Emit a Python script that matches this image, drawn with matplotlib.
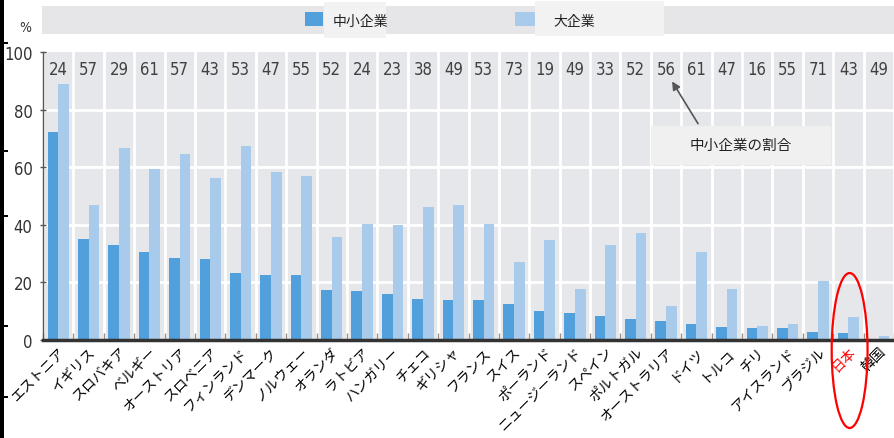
import numpy as np
import matplotlib

matplotlib.use("Agg")
import matplotlib.pyplot as plt
from matplotlib.patches import Rectangle, Ellipse

plt.rcParams["font.family"] = ["Noto Sans CJK JP", "DejaVu Sans"]
NUM_FONT = dict(family="DejaVu Sans", fontstretch="condensed")

countries = ["エストニア", "イギリス", "スロバキア", "ベルギー", "オーストリア", "スロベニア",
             "フィンランド", "デンマーク", "ノルウェー", "オランダ", "ラトビア", "ハンガリー",
             "チェコ", "ギリシャ", "フランス", "スイス", "ポーランド", "ニュージーランド",
             "スペイン", "ポルトガル", "オーストラリア", "ドイツ", "トルコ", "チリ",
             "アイスランド", "ブラジル", "日本", "韓国"]
sme = [72.1, 35.1, 33.1, 30.7, 28.6, 28.0, 23.4, 22.7, 22.5, 17.4, 17.0, 16.0, 14.1, 13.9,
       13.9, 12.5, 10.2, 9.4, 8.4, 7.3, 6.7, 5.5, 4.5, 4.2, 4.1, 2.7, 2.3, 0.5]
large = [88.9, 46.9, 66.6, 59.4, 64.5, 56.1, 67.5, 58.2, 57.0, 35.7, 40.3, 39.9, 46.1, 46.9,
         40.3, 27.2, 34.7, 17.7, 33.1, 37.2, 11.9, 30.7, 17.7, 5.0, 5.5, 20.4, 7.9, 1.5]
sme_share = [24, 57, 29, 61, 57, 43, 53, 47, 55, 52, 24, 23, 38, 49, 53, 73, 19, 49, 33, 52,
             56, 61, 47, 16, 55, 71, 43, 49]
yticks = [0, 20, 40, 60, 80, 100]

W, H = 894, 439
C_SME = "#519fdb"
C_LARGE = "#a8cbec"


def px(x, y):
    # pixel position from the top-left corner -> figure fraction
    return x / W, 1 - y / H


fig = plt.figure(figsize=(W / 100, H / 100), dpi=100)
ax = fig.add_axes([43 / W, 1 - 341 / H, 851 / W, 288 / H])
ax.set_facecolor("#e6e7ea")

x = np.arange(len(countries))
ax.bar(x - 0.175, sme, width=0.35, color=C_SME, zorder=3)
ax.bar(x + 0.175, large, width=0.35, color=C_LARGE, zorder=3)

ax.set_xlim(-0.5, -0.5 + 851 / 30.56)
ax.set_ylim(0, 100)

# column separators and horizontal grid
ax.set_xticks(np.arange(-0.5, len(countries)), minor=True)
ax.grid(which="minor", axis="x", color="white", lw=2, zorder=1)
for v in yticks[1:-1]:
    ax.axhline(v, color="white", lw=2, zorder=1)

# share of SMEs above each column
for i, s in enumerate(sme_share):
    ax.text(i, 94, str(s), ha="center", va="center", fontsize=12, color="#404040",
            zorder=4, **NUM_FONT)

ax.set_xticks(x)
labels = ax.set_xticklabels(countries, rotation=45, ha="right", va="top",
                            rotation_mode="anchor", fontsize=10)
for lab in labels:
    if lab.get_text() == "日本":
        lab.set_color("red")
ax.tick_params(axis="x", which="major", length=0, pad=3)
ax.tick_params(axis="x", which="minor", direction="in", length=5, width=1,
               color="#9b8f86")

ax.set_yticks(yticks)
ax.set_yticklabels([str(v) for v in yticks], fontsize=12, color="#333333", **NUM_FONT)
ax.tick_params(axis="y", direction="inout", length=5, width=1, color="#555555", pad=5)

for side in ["top", "right"]:
    ax.spines[side].set_visible(False)
ax.spines["left"].set_color("#555555")
ax.spines["left"].set_linewidth(1)
ax.spines["bottom"].set_color("#333333")
ax.spines["bottom"].set_linewidth(2.5)
ax.spines["bottom"].set_zorder(5)

fig.text(*px(25, 28), "%", ha="center", va="center", fontsize=10, color="#333333",
         **NUM_FONT)

# legend strip
fig.patches.append(Rectangle(px(42, 35), 852 / W, 28 / H, transform=fig.transFigure,
                             facecolor="#e6e6e8", edgecolor="none"))
fig.patches.append(Rectangle(px(305, 27), 18 / W, 14 / H, transform=fig.transFigure,
                             facecolor=C_SME, edgecolor="none"))
fig.patches.append(Rectangle(px(324, 39), 62 / W, 36 / H, transform=fig.transFigure,
                             facecolor="#f2f2f2", edgecolor="none"))
fig.text(*px(333, 22), "中小企業", ha="left", va="center", fontsize=10, color="#222222")
fig.patches.append(Rectangle(px(515, 27), 20 / W, 14 / H, transform=fig.transFigure,
                             facecolor=C_LARGE, edgecolor="none"))
fig.patches.append(Rectangle(px(535, 37), 129 / W, 35 / H, transform=fig.transFigure,
                             facecolor="#f2f2f2", edgecolor="none"))
fig.text(*px(553, 22), "大企業", ha="left", va="center", fontsize=10, color="#222222")

# callout for the share row
ax.annotate("", xy=(20.15, 90.6), xytext=(21.1, 74.3),
            arrowprops=dict(arrowstyle="-|>", color="#555555", lw=1.2, mutation_scale=12),
            zorder=6)
fig.patches.append(Rectangle(px(651, 166), 180 / W, 39 / H, transform=fig.transFigure,
                             facecolor="#f0f0f0", edgecolor="none", zorder=5))
fig.text(*px(741, 146), "中小企業の割合", ha="center", va="center", fontsize=10.5,
         color="#222222", zorder=6)

# red ring around Japan
ax.add_patch(Ellipse((26.04, -3.65), 1.18, 53.8, fill=False, edgecolor="red", lw=1.6,
                     clip_on=False, zorder=7))

# dark strip along the left edge
fig.patches.append(Rectangle((0, 0), 3.5 / W, 1, transform=fig.transFigure,
                             facecolor="black", edgecolor="none"))
for yy in [44, 152, 217, 327, 398]:
    fig.patches.append(Rectangle(px(0, yy + 1), 8 / W, 2 / H, transform=fig.transFigure,
                                 facecolor="black", edgecolor="none"))

fig.savefig("out.png", dpi=100)
